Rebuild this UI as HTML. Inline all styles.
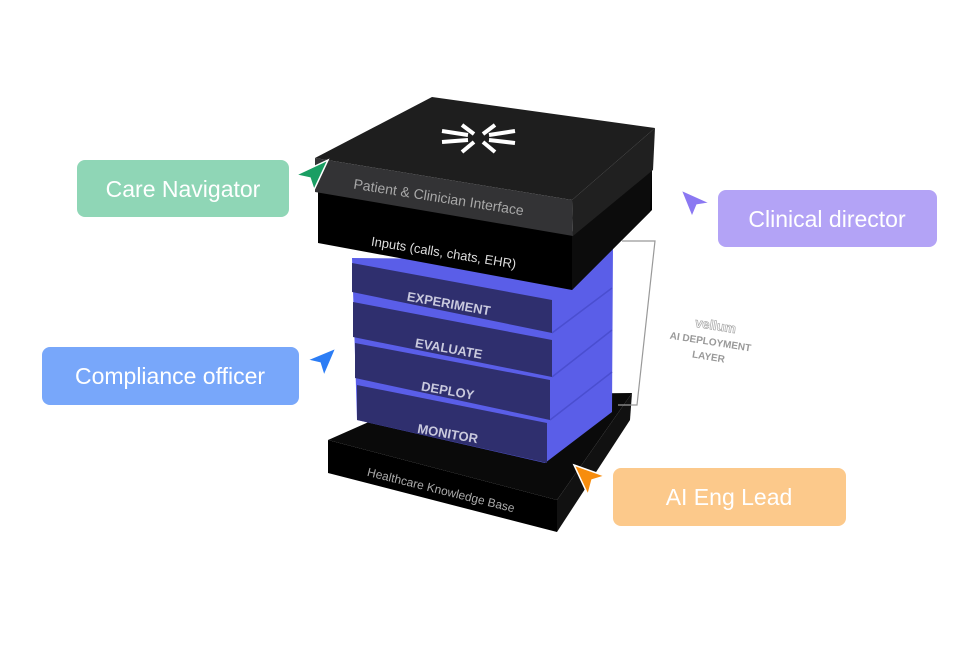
<!DOCTYPE html>
<html><head><meta charset="utf-8"><style>
html,body{margin:0;padding:0;background:#fff;width:980px;height:662px;overflow:hidden}
svg{display:block}
text{font-family:"Liberation Sans",sans-serif}
</style></head><body>
<svg width="980" height="662" viewBox="0 0 980 662">
<!-- base slab -->
<polygon points="328,440 430,395 632,393 557,500" fill="#0a0a0a"/>
<polygon points="328,440 557,500 557,532 328,473" fill="#000"/>
<polygon points="557,500 632,393 630,420 557,532" fill="#111"/>
<text x="440" y="494" transform="rotate(14 440 494)" text-anchor="middle" font-size="12" fill="#aaa">Healthcare Knowledge Base</text>

<!-- blue block backing -->
<polygon points="352,258 560,260 613,245 612,412 545,463 357,420" fill="#5a5ee8"/>
<g stroke="#4a4ed0" stroke-width="1.5">
<line x1="552" y1="333" x2="612" y2="288"/>
<line x1="552" y1="377" x2="612" y2="330"/>
<line x1="550" y1="420" x2="612" y2="372"/>
</g>
<polygon points="357,385 547,423 547,463 357,420" fill="#2f2f6e"/>
<text x="447" y="438" transform="rotate(10 447 438)" text-anchor="middle" font-size="13" font-weight="bold" fill="#c9c9dd">MONITOR</text>
<polygon points="355,343 550,380 550,420 355,378" fill="#2f2f6e"/>
<text x="447" y="395" transform="rotate(10 447 395)" text-anchor="middle" font-size="13" font-weight="bold" fill="#c9c9dd">DEPLOY</text>
<polygon points="353,302 552,340 552,377 353,337" fill="#2f2f6e"/>
<text x="448" y="353" transform="rotate(10 448 353)" text-anchor="middle" font-size="13" font-weight="bold" fill="#c9c9dd">EVALUATE</text>
<polygon points="352,263 552,300 552,333 352,292" fill="#2f2f6e"/>
<text x="448" y="308" transform="rotate(10 448 308)" text-anchor="middle" font-size="13" font-weight="bold" fill="#c9c9dd">EXPERIMENT</text>

<!-- inputs slab -->
<polygon points="318,190 572,232 652,165 652,210 572,290 318,243" fill="#000"/>
<polygon points="572,235 652,168 650,212 572,290" fill="#0c0c0c"/>
<text x="443" y="257" transform="rotate(9 443 257)" text-anchor="middle" font-size="13" fill="#ddd">Inputs (calls, chats, EHR)</text>

<!-- top slab -->
<polygon points="315,158 432,97 655,128 572,200" fill="#1e1e1e"/>
<polygon points="315,158 572,200 573,236 315,192" fill="#333335"/>
<polygon points="572,200 655,128 653,170 573,236" fill="#202020"/>
<text x="438" y="202" transform="rotate(9 438 202)" text-anchor="middle" font-size="14" fill="#a8a8a8">Patient &amp; Clinician Interface</text>
<!-- logo -->
<g stroke="#fff" stroke-width="4" stroke-linecap="butt" fill="none">
<line x1="442" y1="131" x2="468" y2="135"/>
<line x1="442" y1="142" x2="468" y2="140"/>
<line x1="489" y1="135" x2="515" y2="131"/>
<line x1="489" y1="140" x2="515" y2="143"/>
<line x1="462" y1="125" x2="474" y2="134"/>
<line x1="495" y1="125" x2="483" y2="134"/>
<line x1="462" y1="152" x2="474" y2="142"/>
<line x1="495" y1="152" x2="483" y2="142"/>
</g>

<!-- bracket -->
<polyline points="622,241 655,241 637,405 618,405" fill="none" stroke="#999" stroke-width="1.2"/>
<text x="715" y="330" transform="rotate(9 715 330)" text-anchor="middle" font-size="13" font-weight="bold" fill="none" stroke="#aaa" stroke-width="0.7">vellum</text>
<text x="710" y="345" transform="rotate(9 710 345)" text-anchor="middle" font-size="10" font-weight="bold" fill="#999">AI DEPLOYMENT</text>
<text x="708" y="360" transform="rotate(9 708 360)" text-anchor="middle" font-size="10" font-weight="bold" fill="#999">LAYER</text>

<!-- labels -->
<rect x="77" y="160" width="212" height="57" rx="8" fill="#8fd6b6"/>
<text x="183" y="197" text-anchor="middle" font-size="23" fill="#fff">Care Navigator</text>
<rect x="718" y="190" width="219" height="57" rx="8" fill="#b3a3f6"/>
<text x="827" y="227" text-anchor="middle" font-size="23" fill="#fff">Clinical director</text>
<rect x="42" y="347" width="257" height="58" rx="8" fill="#78a7fa"/>
<text x="170" y="384" text-anchor="middle" font-size="23" fill="#fff">Compliance officer</text>
<rect x="613" y="468" width="233" height="58" rx="8" fill="#fcc98b"/>
<text x="729" y="505" text-anchor="middle" font-size="23" fill="#fff">AI Eng Lead</text>

<!-- cursors -->
<polygon points="328,160 296,175 310,178 314,190" fill="#1a9e63" stroke="#fff" stroke-width="1.5"/>
<polygon points="681,190 710,203 697,205 692,217" fill="#8b78f2" stroke="#fff" stroke-width="1.5"/>
<polygon points="336,348 307,360 320,363 324,376" fill="#2c7df5" stroke="#fff" stroke-width="1.5"/>
<polygon points="574,465 605,476 592,480 588,495" fill="#f78d0e" stroke="#fff" stroke-width="1.5"/>
</svg>
</body></html>
